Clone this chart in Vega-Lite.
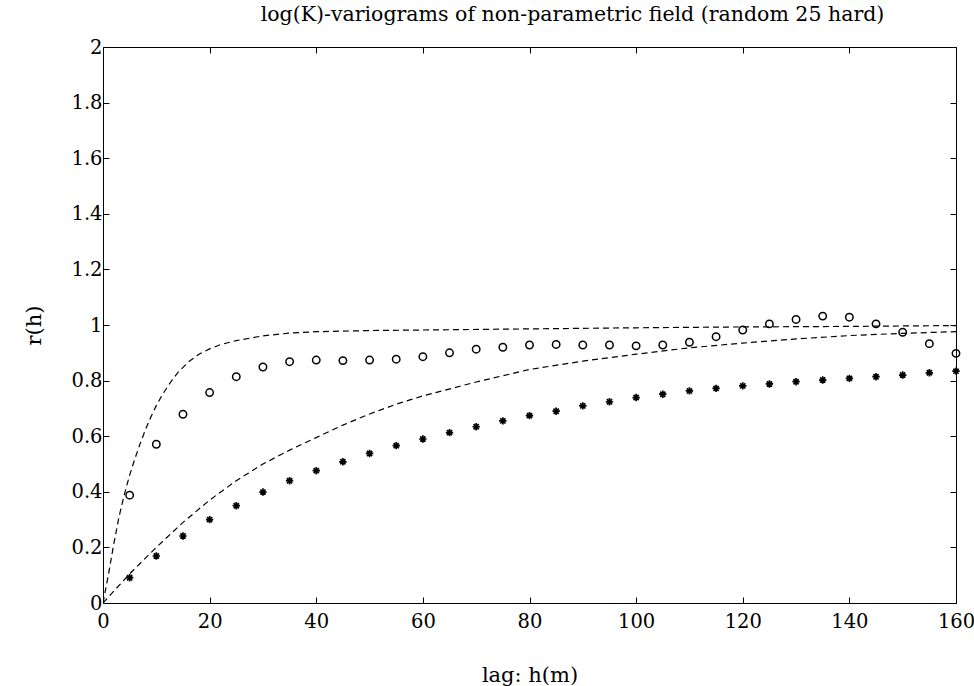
{
  "$schema": "https://vega.github.io/schema/vega-lite/v6.json",
  "width": 853,
  "height": 556,
  "autosize": "none",
  "padding": {"left": 103, "top": 47, "right": 18, "bottom": 83},
  "background": "white",
  "config": {
    "view": {"stroke": "black", "strokeWidth": 1},
    "font": "DejaVu Serif",
    "axis": {"grid": false, "domainColor": "black", "tickColor": "black", "labelColor": "black", "titleColor": "black", "labelFont": "DejaVu Serif", "titleFont": "DejaVu Serif", "labelFontSize": 19.5, "titleFontSize": 21, "titleFontWeight": "normal", "tickSize": -6, "domain": false}
  },
  "title": {"text": "log(K)-variograms of non-parametric field (random 25 hard)", "font": "DejaVu Serif", "fontSize": 20.5, "fontWeight": "normal", "color": "black", "offset": 12, "dx": 43},
  "datasets": {
    "pts": [
      {"series": "obs1", "h": 5, "r": 0.388}, {"series": "obs1", "h": 10, "r": 0.571}, {"series": "obs1", "h": 15, "r": 0.679}, {"series": "obs1", "h": 20, "r": 0.757},
      {"series": "obs1", "h": 25, "r": 0.814}, {"series": "obs1", "h": 30, "r": 0.849}, {"series": "obs1", "h": 35, "r": 0.868}, {"series": "obs1", "h": 40, "r": 0.874},
      {"series": "obs1", "h": 45, "r": 0.872}, {"series": "obs1", "h": 50, "r": 0.874}, {"series": "obs1", "h": 55, "r": 0.877}, {"series": "obs1", "h": 60, "r": 0.886},
      {"series": "obs1", "h": 65, "r": 0.9}, {"series": "obs1", "h": 70, "r": 0.913}, {"series": "obs1", "h": 75, "r": 0.92}, {"series": "obs1", "h": 80, "r": 0.928},
      {"series": "obs1", "h": 85, "r": 0.93}, {"series": "obs1", "h": 90, "r": 0.928}, {"series": "obs1", "h": 95, "r": 0.928}, {"series": "obs1", "h": 100, "r": 0.925},
      {"series": "obs1", "h": 105, "r": 0.928}, {"series": "obs1", "h": 110, "r": 0.938}, {"series": "obs1", "h": 115, "r": 0.958}, {"series": "obs1", "h": 120, "r": 0.982},
      {"series": "obs1", "h": 125, "r": 1.004}, {"series": "obs1", "h": 130, "r": 1.02}, {"series": "obs1", "h": 135, "r": 1.032}, {"series": "obs1", "h": 140, "r": 1.028},
      {"series": "obs1", "h": 145, "r": 1.004}, {"series": "obs1", "h": 150, "r": 0.974}, {"series": "obs1", "h": 155, "r": 0.933}, {"series": "obs1", "h": 160, "r": 0.898},
      {"series": "obs2", "h": 5, "r": 0.091}, {"series": "obs2", "h": 10, "r": 0.169}, {"series": "obs2", "h": 15, "r": 0.241}, {"series": "obs2", "h": 20, "r": 0.3},
      {"series": "obs2", "h": 25, "r": 0.35}, {"series": "obs2", "h": 30, "r": 0.399}, {"series": "obs2", "h": 35, "r": 0.44}, {"series": "obs2", "h": 40, "r": 0.476},
      {"series": "obs2", "h": 45, "r": 0.508}, {"series": "obs2", "h": 50, "r": 0.538}, {"series": "obs2", "h": 55, "r": 0.566}, {"series": "obs2", "h": 60, "r": 0.59},
      {"series": "obs2", "h": 65, "r": 0.613}, {"series": "obs2", "h": 70, "r": 0.634}, {"series": "obs2", "h": 75, "r": 0.655}, {"series": "obs2", "h": 80, "r": 0.674},
      {"series": "obs2", "h": 85, "r": 0.69}, {"series": "obs2", "h": 90, "r": 0.709}, {"series": "obs2", "h": 95, "r": 0.724}, {"series": "obs2", "h": 100, "r": 0.739},
      {"series": "obs2", "h": 105, "r": 0.751}, {"series": "obs2", "h": 110, "r": 0.763}, {"series": "obs2", "h": 115, "r": 0.772}, {"series": "obs2", "h": 120, "r": 0.781},
      {"series": "obs2", "h": 125, "r": 0.788}, {"series": "obs2", "h": 130, "r": 0.796}, {"series": "obs2", "h": 135, "r": 0.802}, {"series": "obs2", "h": 140, "r": 0.808},
      {"series": "obs2", "h": 145, "r": 0.814}, {"series": "obs2", "h": 150, "r": 0.82}, {"series": "obs2", "h": 155, "r": 0.828}, {"series": "obs2", "h": 160, "r": 0.834}
    ],
    "models": [
      {"model": "m1", "h": 0, "r": 0}, {"model": "m1", "h": 1, "r": 0.1}, {"model": "m1", "h": 2, "r": 0.21}, {"model": "m1", "h": 3, "r": 0.31},
      {"model": "m1", "h": 4, "r": 0.39}, {"model": "m1", "h": 5, "r": 0.46}, {"model": "m1", "h": 6, "r": 0.52}, {"model": "m1", "h": 7, "r": 0.575},
      {"model": "m1", "h": 8, "r": 0.625}, {"model": "m1", "h": 9, "r": 0.67}, {"model": "m1", "h": 10, "r": 0.71}, {"model": "m1", "h": 11, "r": 0.745},
      {"model": "m1", "h": 12, "r": 0.775}, {"model": "m1", "h": 13, "r": 0.803}, {"model": "m1", "h": 14, "r": 0.828}, {"model": "m1", "h": 16, "r": 0.867},
      {"model": "m1", "h": 18, "r": 0.895}, {"model": "m1", "h": 20, "r": 0.914}, {"model": "m1", "h": 22, "r": 0.929}, {"model": "m1", "h": 25, "r": 0.944},
      {"model": "m1", "h": 30, "r": 0.961}, {"model": "m1", "h": 35, "r": 0.971}, {"model": "m1", "h": 40, "r": 0.976}, {"model": "m1", "h": 50, "r": 0.98},
      {"model": "m1", "h": 60, "r": 0.982}, {"model": "m1", "h": 80, "r": 0.986}, {"model": "m1", "h": 100, "r": 0.99}, {"model": "m1", "h": 120, "r": 0.993},
      {"model": "m1", "h": 140, "r": 0.995}, {"model": "m1", "h": 160, "r": 0.998},
      {"model": "m2", "h": 0, "r": 0}, {"model": "m2", "h": 5, "r": 0.105}, {"model": "m2", "h": 10, "r": 0.2}, {"model": "m2", "h": 15, "r": 0.29},
      {"model": "m2", "h": 20, "r": 0.37}, {"model": "m2", "h": 25, "r": 0.44}, {"model": "m2", "h": 30, "r": 0.5}, {"model": "m2", "h": 35, "r": 0.55},
      {"model": "m2", "h": 40, "r": 0.595}, {"model": "m2", "h": 45, "r": 0.64}, {"model": "m2", "h": 50, "r": 0.68}, {"model": "m2", "h": 55, "r": 0.715},
      {"model": "m2", "h": 60, "r": 0.745}, {"model": "m2", "h": 70, "r": 0.795}, {"model": "m2", "h": 80, "r": 0.84}, {"model": "m2", "h": 90, "r": 0.87},
      {"model": "m2", "h": 100, "r": 0.895}, {"model": "m2", "h": 110, "r": 0.918}, {"model": "m2", "h": 120, "r": 0.935}, {"model": "m2", "h": 130, "r": 0.95},
      {"model": "m2", "h": 140, "r": 0.962}, {"model": "m2", "h": 150, "r": 0.97}, {"model": "m2", "h": 160, "r": 0.976}
    ]
  },
  "resolve": {"axis": {"x": "independent", "y": "independent"}},
  "layer": [
    {
      "data": {"name": "models"},
      "mark": {"type": "line", "color": "black", "strokeWidth": 1.2, "strokeDash": [6, 4], "clip": true},
      "encoding": {
        "x": {"field": "h", "type": "quantitative", "scale": {"domain": [0, 160], "nice": false},
          "axis": {"title": "lag: h(m)", "values": [0, 20, 40, 60, 80, 100, 120, 140, 160], "labelPadding": 15, "titlePadding": 34, "labelFlush": false}},
        "y": {"field": "r", "type": "quantitative", "scale": {"domain": [0, 2], "nice": false},
          "axis": {"title": "r(h)", "values": [0, 0.2, 0.4, 0.6, 0.8, 1, 1.2, 1.4, 1.6, 1.8, 2], "format": "~g", "labelPadding": 7, "titlePadding": 26, "labelFlush": false}},
        "detail": {"field": "model"}
      }
    },
    {
      "data": {"name": "pts"},
      "transform": [{"filter": "datum.series === 'obs1'"}],
      "mark": {"type": "point", "shape": "circle", "filled": false, "color": "black", "strokeWidth": 1.5, "size": 55, "opacity": 1},
      "encoding": {
        "x": {"field": "h", "type": "quantitative", "axis": {"orient": "top", "labels": false, "title": null, "values": [0, 20, 40, 60, 80, 100, 120, 140, 160]}},
        "y": {"field": "r", "type": "quantitative", "axis": {"orient": "right", "labels": false, "title": null, "values": [0, 0.2, 0.4, 0.6, 0.8, 1, 1.2, 1.4, 1.6, 1.8, 2]}}
      }
    },
    {
      "data": {"name": "pts"},
      "transform": [{"filter": "datum.series === 'obs2'"}],
      "mark": {"type": "point", "shape": "M0,-1L0,1M-1,0L1,0M-0.7,-0.7L0.7,0.7M-0.7,0.7L0.7,-0.7", "filled": false, "color": "black", "strokeWidth": 1.7, "size": 55, "opacity": 1},
      "encoding": {
        "x": {"field": "h", "type": "quantitative", "axis": null},
        "y": {"field": "r", "type": "quantitative", "axis": null}
      }
    }
  ]
}
